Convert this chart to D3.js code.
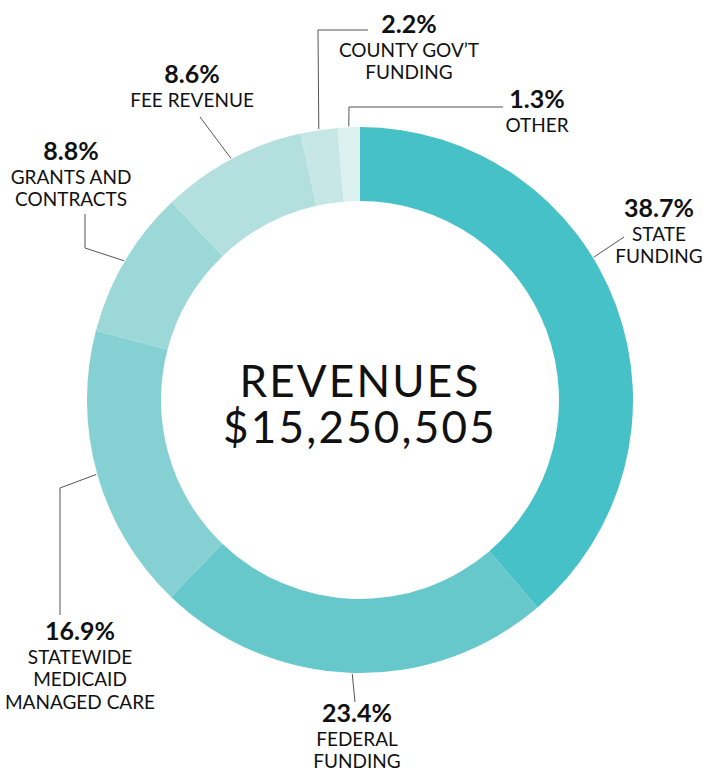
<!DOCTYPE html>
<html>
<head>
<meta charset="utf-8">
<script src="https://cdn.jsdelivr.net/npm/d3@7"></script>
<style>
  body { margin: 0; background: #fff; }
  text { font-family: "Lato", "Noto Sans", sans-serif; fill: #111; }
</style>
</head>
<body>
<div class="chart"></div>
<script>
var width = 704, height = 774;

// data
var categories = ["STATE FUNDING", "FEDERAL FUNDING", "STATEWIDE MEDICAID MANAGED CARE",
                  "GRANTS AND CONTRACTS", "FEE REVENUE", "COUNTY GOV'T FUNDING", "OTHER"];
var shares = [38.7, 23.4, 16.9, 8.8, 8.6, 2.2, 1.3];
var labelLines = [
  ["STATE", "FUNDING"],
  ["FEDERAL", "FUNDING"],
  ["STATEWIDE", "MEDICAID", "MANAGED CARE"],
  ["GRANTS AND", "CONTRACTS"],
  ["FEE REVENUE"],
  ["COUNTY GOV\u2019T", "FUNDING"],
  ["OTHER"]
];
var colors = ["#45c1c7", "#67c8cc", "#84d0d3", "#9dd8d9", "#b3dfdf", "#c7e7e6", "#dcf0ef"];
var totalLabel = ["REVENUES", "$15,250,505"];

// label layout: text anchor point, leader elbow points, where on the slice the line starts
var layout = [
  { x: 659, y: 217, pts: [[624, 237]], at: 0.42 },
  { x: 357, y: 722, pts: [[355, 702]], at: 0.5 },
  { x: 80,  y: 640, pts: [[60, 615], [60, 488]], at: 0.5 },
  { x: 71,  y: 160, pts: [[85, 214], [85, 248]], at: 0.5 },
  { x: 192, y: 83,  pts: [[200, 117]], at: 0.5 },
  { x: 409, y: 33,  pts: [[368, 30], [318, 30]], at: 0.5 },
  { x: 537, y: 108, pts: [[503, 107], [349, 107]], at: 0.5 }
];

var cx = 360, cy = 400, rOuter = 273, rInner = 199;

var svg = d3.select(".chart").append("svg")
  .attr("width", width)
  .attr("height", height);

var pie = d3.pie().sort(null).value(function (d) { return d; });
var arcs = pie(shares);
var arc = d3.arc().innerRadius(rInner).outerRadius(rOuter);

var g = svg.append("g").attr("transform", "translate(" + cx + "," + cy + ")");

g.selectAll("path")
  .data(arcs)
  .enter()
  .append("path")
  .attr("d", arc)
  .attr("fill", function (d, i) { return colors[i]; });

// leader lines
svg.selectAll("polyline.leader")
  .data(arcs)
  .enter()
  .append("polyline")
  .attr("class", "leader")
  .attr("fill", "none")
  .attr("stroke", "#555")
  .attr("stroke-width", 1)
  .attr("points", function (d, i) {
    var L = layout[i];
    var a = d.startAngle + (d.endAngle - d.startAngle) * L.at;
    var sx = cx + Math.sin(a) * (rOuter + 1);
    var sy = cy - Math.cos(a) * (rOuter + 1);
    var p = L.pts.slice();
    p.push([sx, sy]);
    return p.map(function (q) { return q.join(","); }).join(" ");
  });

// labels
var labels = svg.selectAll("g.label")
  .data(arcs)
  .enter()
  .append("g")
  .attr("class", "label")
  .attr("transform", function (d, i) { return "translate(" + layout[i].x + "," + layout[i].y + ")"; });

labels.append("text")
  .attr("text-anchor", "middle")
  .attr("font-size", 25)
  .attr("font-weight", 700)
  .text(function (d, i) { return shares[i].toFixed(1) + "%"; });

labels.each(function (d, i) {
  var sel = d3.select(this);
  labelLines[i].forEach(function (line, j) {
    sel.append("text")
      .attr("text-anchor", "middle")
      .attr("y", 23.5 + j * 22.8)
      .attr("font-size", 19)
      .attr("fill", "#222")
      .text(line);
  });
});

// center total
svg.selectAll("text.total")
  .data(totalLabel)
  .enter()
  .append("text")
  .attr("class", "total")
  .attr("x", cx)
  .attr("y", function (d, i) { return 397 + i * 46; })
  .attr("text-anchor", "middle")
  .attr("font-size", 44)
  .attr("letter-spacing", 2.2)
  .text(function (d) { return d; });
</script>
</body>
</html>
